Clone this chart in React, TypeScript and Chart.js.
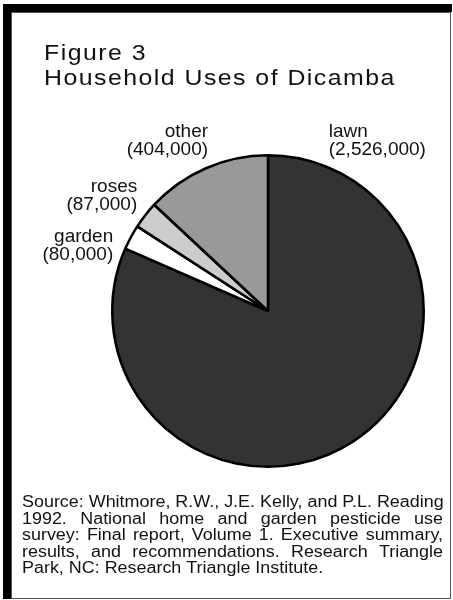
import React, { useEffect, useRef } from 'react';
import { Chart, registerables } from 'chart.js';

Chart.register(...registerables);

// ---- data ----
const categories = ['lawn', 'garden', 'roses', 'other'];
const households = [2526000, 80000, 87000, 404000];
const sliceColors = ['#333333', '#ffffff', '#cccccc', '#999999'];
const titleLines = ['Figure 3', 'Household Uses of Dicamba'];
const sourceLines = [
  'Source: Whitmore, R.W., J.E. Kelly, and P.L. Reading',
  '1992. National home and garden pesticide use',
  'survey: Final report, Volume 1. Executive summary,',
  'results, and recommendations. Research Triangle',
  'Park, NC: Research Triangle Institute.',
];
const sourceJustify = [false, true, true, true, false];

// ---- layout ----
const W = 453;
const H = 600;
const FONT = '"Liberation Sans", Arial, Helvetica, sans-serif';
// label anchors relative to pie centre, in units of the pie radius
const labelLayout = [
  { dx: 0.39, dy: -1.12, align: 'left' },
  { dx: -0.994, dy: -0.44, align: 'right' },
  { dx: -0.84, dy: -0.765, align: 'right' },
  { dx: -0.385, dy: -1.12, align: 'right' },
];

const fmt = (v: number) => '(' + v.toLocaleString('en-US') + ')';

const figurePlugin = {
  id: 'figureDecor',
  beforeDraw(chart: any) {
    const ctx = chart.ctx;
    ctx.save();
    ctx.fillStyle = '#ffffff';
    ctx.fillRect(0, 0, W, H);
    ctx.fillStyle = '#000000';
    ctx.fillRect(3, 4, 8, 595);
    ctx.fillRect(3, 4, 449, 8);
    ctx.strokeStyle = '#555555';
    ctx.lineWidth = 1;
    ctx.strokeRect(11.5, 12.5, 439, 586);
    ctx.restore();
  },
  afterDraw(chart: any) {
    const ctx = chart.ctx;
    ctx.save();
    ctx.beginPath();
    ctx.rect(12, 13, 438, 585);
    ctx.clip();
    ctx.fillStyle = '#111111';
    ctx.textBaseline = 'alphabetic';

    // title
    ctx.font = '22px ' + FONT;
    (ctx as any).letterSpacing = '1.3px';
    titleLines.forEach((t, i) => {
      ctx.save();
      ctx.translate(44, 60 + i * 25);
      ctx.scale(1.13, 1);
      ctx.textAlign = 'left';
      ctx.fillText(t, 0, 0);
      ctx.restore();
    });
    (ctx as any).letterSpacing = '0px';

    // slice labels
    const meta = chart.getDatasetMeta(0);
    ctx.font = '19px ' + FONT;
    meta.data.forEach((arc: any, i: number) => {
      const { x, y, outerRadius } = arc.getProps(['x', 'y', 'outerRadius'], true);
      const L = labelLayout[i];
      const lx = x + L.dx * outerRadius;
      const ly = y + L.dy * outerRadius;
      ctx.textAlign = L.align;
      ctx.fillText(categories[i], lx, ly);
      ctx.fillText(fmt(households[i]), lx, ly + 18);
    });

    // source paragraph (justified)
    const sx = 1.12;
    const left = 22;
    const right = 443;
    ctx.font = '16px ' + FONT;
    ctx.textAlign = 'left';
    sourceLines.forEach((line, i) => {
      ctx.save();
      ctx.translate(left, 507 + i * 16.5);
      ctx.scale(sx, 1);
      const target = (right - left) / sx;
      const words = line.split(' ');
      const natural = ctx.measureText(line).width;
      if (sourceJustify[i] && natural < target && words.length > 1) {
        const wordsW = words.reduce((s, w) => s + ctx.measureText(w).width, 0);
        const gap = (target - wordsW) / (words.length - 1);
        let cx = 0;
        words.forEach((w) => {
          ctx.fillText(w, cx, 0);
          cx += ctx.measureText(w).width + gap;
        });
      } else {
        ctx.fillText(line, 0, 0);
      }
      ctx.restore();
    });
    ctx.restore();
  },
};

export default function App() {
  const ref = useRef<HTMLCanvasElement | null>(null);
  useEffect(() => {
    if (!ref.current) return;
    const chart = new Chart(ref.current, {
      type: 'pie',
      data: {
        labels: categories,
        datasets: [
          {
            data: households,
            backgroundColor: sliceColors,
            borderColor: '#000000',
            borderWidth: 2.6,
          },
        ],
      },
      options: {
        responsive: true,
        maintainAspectRatio: false,
        animation: false,
        layout: { padding: { left: 111, right: 28, top: 154, bottom: 132 } },
        plugins: {
          legend: { display: false },
          tooltip: { enabled: false },
          title: { display: false },
        },
      },
      plugins: [figurePlugin],
    });
    return () => chart.destroy();
  }, []);
  return (
    <div style={{ position: 'absolute', left: 0, top: 0, width: W, height: H, background: '#fff' }}>
      <canvas ref={ref} />
    </div>
  );
}
